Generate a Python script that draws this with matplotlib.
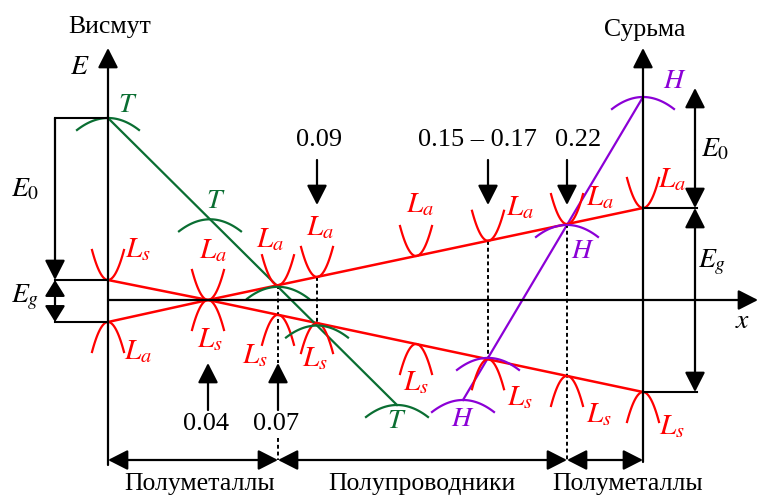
"""
Зонная структура сплавов висмут - сурьма (схема)
"""

import numpy as np
import matplotlib
matplotlib.use('Agg')
from matplotlib import pyplot as plt

plt.rcParams['font.family'] = ['Liberation Serif', 'DejaVu Serif']
plt.rcParams['mathtext.fontset'] = 'stix'

RED = '#ff0000'
GREEN = '#0a6e32'
PURPLE = '#8b00d6'

# schematic positions along the composition axis (Bi at 0, Sb at SB_X)
SB_X = 535
CROSS_X = 100
comp_labels = ['0.04', '0.07', '0.09', '0.15 – 0.17', '0.22']
comp_x = [100, 170, 209, 380, 459]

# band energies at the pure ends
bi_L_up, bi_L_down = 20, -22
sb_L_up, sb_L_down = 92, -92
bi_T = 182
T_end = (289, -105)
sb_H = 203
H_end = (355, -100)

# where the little dispersion curves are drawn
L_sites = [0, 100, 170, 209, 308, 380, 459, SB_X]
T_sites = [0, 102, 170, 209, 289]
H_sites = [SB_X, 459, 380, 355]


def L_upper(x):
    return np.interp(x, [0, CROSS_X, SB_X], [bi_L_up, 0, sb_L_up])


def L_lower(x):
    return np.interp(x, [0, CROSS_X, SB_X], [bi_L_down, 0, sb_L_down])


def T_line(x):
    return bi_T + (T_end[1] - bi_T) * x / T_end[0]


def H_line(x):
    return sb_H + (H_end[1] - sb_H) * (SB_X - x) / (SB_X - H_end[0])


def arrow(ax, p0, p1, style='-|>', hl=0.55):
    ax.annotate('', xy=p1, xytext=p0,
                arrowprops=dict(arrowstyle=style + ',head_length=%g,head_width=0.28' % hl,
                                mutation_scale=22, lw=1.6, color='k',
                                shrinkA=0, shrinkB=0))


def cup(ax, x0, y0, up=True, color=RED):
    dx = np.linspace(-16, 16, 40)
    s = 1 if up else -1
    ax.plot(x0 + dx, y0 + s * 30 * (dx / 16) ** 2, color=color, lw=1.6)


def cap(ax, x0, y0, color):
    dx = np.linspace(-31, 31, 40)
    ax.plot(x0 + dx, y0 - 12 * (dx / 31) ** 2, color=color, lw=1.6)


def main():
    fig = plt.figure(figsize=(7.6, 4.95), dpi=100)
    ax = fig.add_axes([0, 0, 1, 1])
    ax.set_xlim(-108, 652)
    ax.set_ylim(-195, 300)
    ax.axis('off')

    # axes of the diagram
    arrow(ax, (0, -165), (0, 252))
    arrow(ax, (SB_X, -162), (SB_X, 252))
    arrow(ax, (0, 0), (650, 0))
    ax.text(-28, 233, '$E$', fontsize=20, ha='center', va='center')
    ax.text(635, -22, '$x$', fontsize=20, ha='center', va='center')
    ax.text(2, 273, 'Висмут', fontsize=18.5, ha='center', va='center')
    ax.text(SB_X + 2, 270, 'Сурьма', fontsize=18.5, ha='center', va='center')

    # L bands
    xs = np.array([0, CROSS_X, SB_X])
    ax.plot(xs, L_upper(xs), color=RED, lw=1.8)
    ax.plot(xs, L_lower(xs), color=RED, lw=1.8)

    # T and H bands
    ax.plot([0, T_end[0]], [bi_T, T_end[1]], color=GREEN, lw=1.6)
    ax.plot([SB_X, H_end[0]], [sb_H, H_end[1]], color=PURPLE, lw=1.6)

    # dotted guides at the critical compositions
    dot = dict(color='k', lw=1.4, ls=(0, (2, 1.5)))
    ax.plot([170, 170], [L_upper(170), -63], **dot)
    ax.plot([170, 170], [-138, -160], **dot)
    ax.plot([209, 209], [L_upper(209), L_lower(209)], **dot)
    ax.plot([380, 380], [L_upper(380), L_lower(380)], **dot)
    ax.plot([459, 459], [L_upper(459), -160], **dot)

    # dispersion curves
    up_off = [(30, 30), (5, 49), (-8, 46), (3, 49), (4, 51), (32, 33), (33, 26), (29, 28)]
    dn_off = [(30, -30), (2, -40), (-23, -41), (-2, -36), (0, -39), (32, -38), (32, -39), (29, -35)]
    for i, x in enumerate(L_sites):
        yu, yd = L_upper(x), L_lower(x)
        cup(ax, x, yu, up=True)
        cup(ax, x, yd, up=False)
        up_name, dn_name = ('s', 'a') if i == 0 else ('a', 's')
        ax.text(x + up_off[i][0], yu + up_off[i][1], '$L_%s$' % up_name,
                color=RED, fontsize=21, ha='center', va='center')
        ax.text(x + dn_off[i][0], yd + dn_off[i][1], '$L_%s$' % dn_name,
                color=RED, fontsize=21, ha='center', va='center')

    T_off = {0: (20, 13), 102: (6, 18), 289: (0, -16)}
    for x in T_sites:
        y = T_line(x)
        cap(ax, x, y, GREEN)
        if x in T_off:
            ax.text(x + T_off[x][0], y + T_off[x][1], '$T$', color=GREEN,
                    fontsize=20, ha='center', va='center')

    H_off = {SB_X: (32, 15), 459: (16, -27), 355: (0, -20)}
    for x in H_sites:
        y = H_line(x)
        cap(ax, x, y, PURPLE)
        if x in H_off:
            ax.text(x + H_off[x][0], y + H_off[x][1], '$H$', color=PURPLE,
                    fontsize=20, ha='center', va='center')

    # composition markers
    for lab, x in zip(comp_labels, comp_x):
        if x < 200:
            arrow(ax, (x, -110), (x, -63))
            ax.text(x - 2, -124, lab, fontsize=19, ha='center', va='center')
        else:
            arrow(ax, (x, 140), (x, 95))
            ax.text(x + (0 if x != 380 else -13) + (11 if x == 459 else 2), 160, lab,
                    fontsize=19, ha='center', va='center')

    # energy gaps at the bismuth end
    gx = -53
    for y in [bi_T, bi_L_up, bi_L_down]:
        ax.plot([gx, 0], [y, y], color='k', lw=1.5)
    arrow(ax, (gx, bi_T), (gx, bi_L_up))
    arrow(ax, (gx, (bi_L_up + bi_L_down) / 2), (gx, bi_L_up), hl=0.45)
    arrow(ax, (gx, (bi_L_up + bi_L_down) / 2), (gx, bi_L_down), hl=0.45)
    ax.text(-83, 110, '$E_0$', fontsize=20, ha='center', va='center')
    ax.text(-83, 3, '$E_g$', fontsize=20, ha='center', va='center')

    # energy gaps at the antimony end
    gx = SB_X + 52
    for y in [sb_L_up, sb_L_down]:
        ax.plot([SB_X, gx + 2], [y, y], color='k', lw=1.5)
    arrow(ax, (gx, 150), (gx, 212))
    arrow(ax, (gx, 150), (gx, sb_L_up))
    arrow(ax, (gx, 0), (gx, sb_L_up))
    arrow(ax, (gx, 0), (gx, sb_L_down))
    ax.text(607, 150, '$E_0$', fontsize=20, ha='center', va='center')
    ax.text(604, 38, '$E_g$', fontsize=20, ha='center', va='center')

    # regions along the composition axis
    bounds = [0, 170, 459, SB_X]
    names = ['Полуметаллы', 'Полупроводники', 'Полуметаллы']
    for a, b, name in zip(bounds[:-1], bounds[1:], names):
        arrow(ax, (a, -160), (b, -160), style='<|-|>')
    ax.text(92, -184, names[0], fontsize=18.5, ha='center', va='center')
    ax.text(314, -184, names[1], fontsize=18.5, ha='center', va='center')
    ax.text(520, -184, names[2], fontsize=18.5, ha='center', va='center')

    fig.savefig('out.png', dpi=100)


if __name__ == '__main__':
    main()
